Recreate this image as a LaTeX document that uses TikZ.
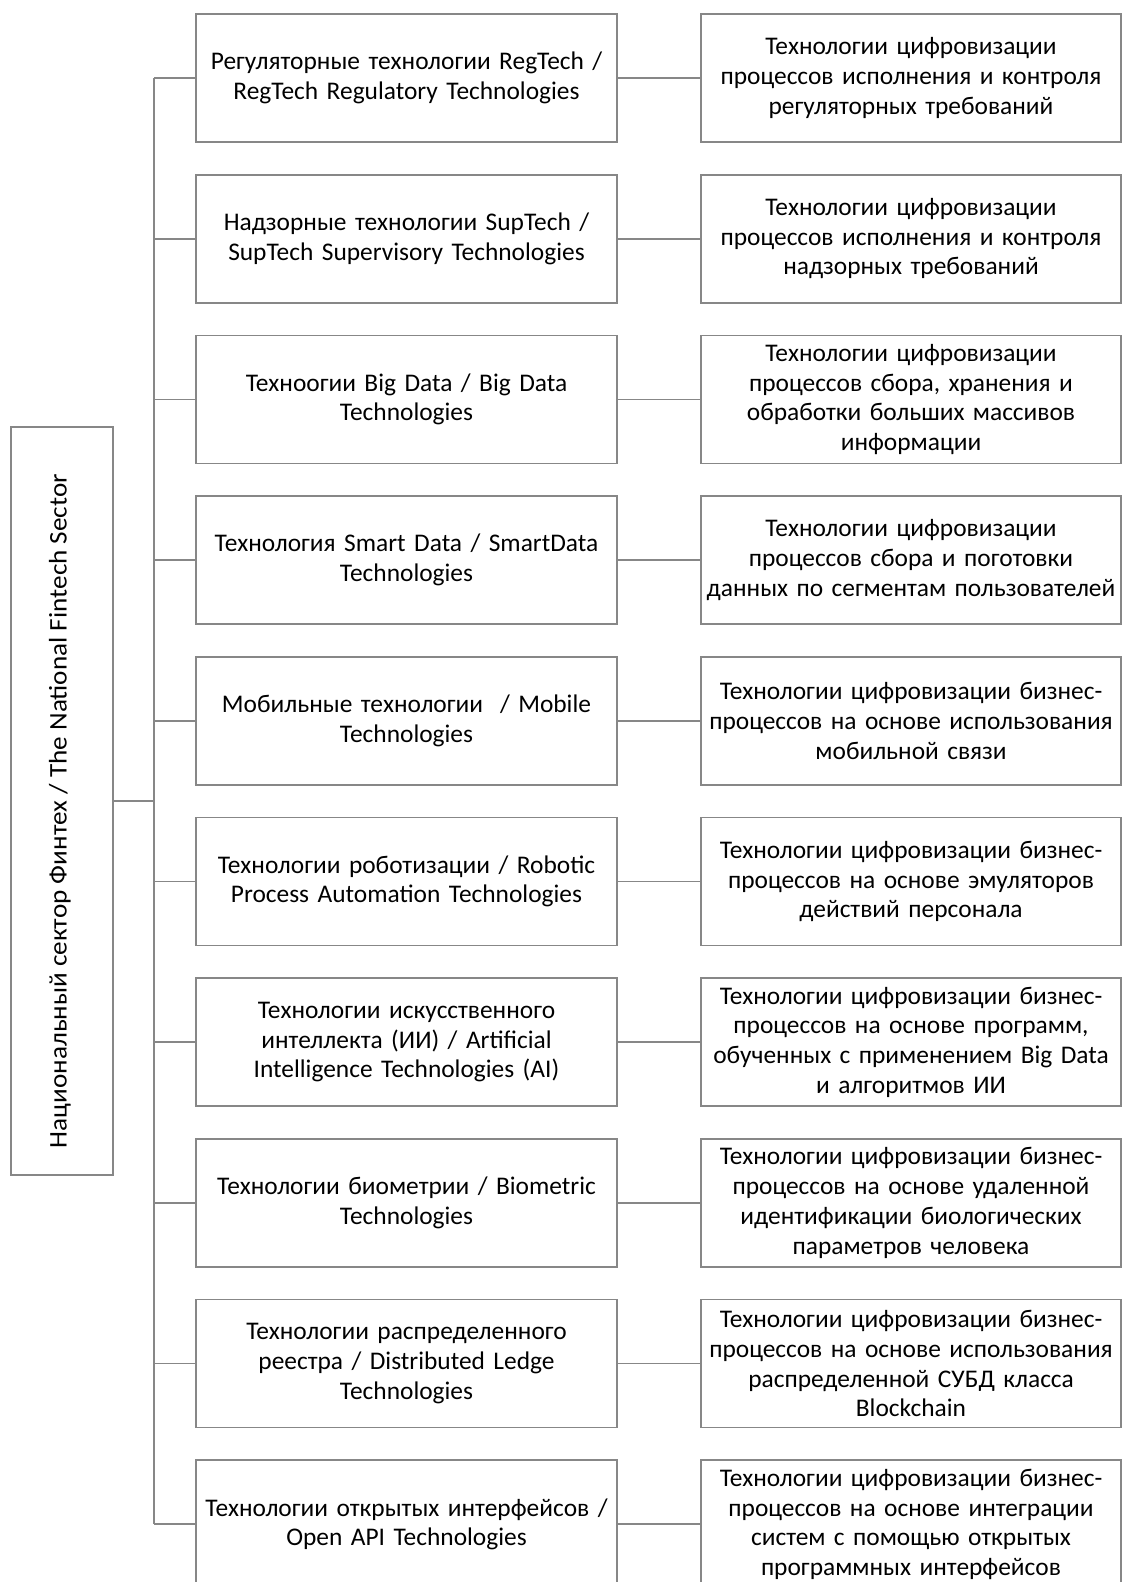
\documentclass[tikz,border=0pt]{standalone}
\usepackage{fontspec}
\setmainfont{Carlito}
\begin{document}
\begin{tikzpicture}[x=1pt,y=-1pt,
  txt/.style={font=\fontsize{25.4}{29.7}\selectfont},
  box/.style={draw=linegray, line width=1.7pt, inner sep=0pt, minimum height=128pt, align=center, txt},
  lbox/.style={box, text width=421pt},
  rbox/.style={box, text width=420pt},
  conn/.style={draw=linegray, line width=1.7pt}]
\definecolor{linegray}{RGB}{135,135,135}
\useasboundingbox (0,0) rectangle (1123,1582);
\clip (0,0) rectangle (1123,1582);
\coordinate (sp) at (154,0);
\node[draw=linegray, line width=1.7pt, minimum width=102pt, minimum height=748pt, inner sep=0pt] (C) at (62,801) {};
\node[rotate=90, txt] (Ct) at (60,811) {\scalebox{1.07}[1]{Национальный сектор Финтех / The National Fintech Sector}};

\node[lbox] (L1) at (406.5,78) {Регуляторные технологии RegTech /\\RegTech Regulatory Technologies};
\node[lbox] (L2) at (406.5,238.7) {Надзорные технологии SupTech /\\SupTech Supervisory Technologies};
\node[lbox] (L3) at (406.5,399.4) {Техноогии Big Data / Big Data\\Technologies};
\node[lbox] (L4) at (406.5,560.1) {Технология Smart Data / SmartData\\Technologies};
\node[lbox] (L5) at (406.5,720.8) {Мобильные технологии~~/ Mobile\\Technologies};
\node[lbox] (L6) at (406.5,881.5) {Технологии роботизации / Robotic\\Process Automation Technologies};
\node[lbox] (L7) at (406.5,1042.2) {Технологии искусственного\\интеллекта (ИИ) / Artificial\\Intelligence Technologies (AI)};
\node[lbox] (L8) at (406.5,1202.9) {Технологии биометрии / Biometric\\Technologies};
\node[lbox] (L9) at (406.5,1363.6) {Технологии распределенного\\реестра / Distributed Ledge\\Technologies};
\node[lbox] (L10) at (406.5,1524.3) {Технологии открытых интерфейсов /\\Open API Technologies};

\node[rbox] (R1) at (911,78) {Технологии цифровизации\\процессов исполнения и контроля\\регуляторных требований};
\node[rbox] (R2) at (911,238.7) {Технологии цифровизации\\процессов исполнения и контроля\\надзорных требований};
\node[rbox] (R3) at (911,399.4) {Технологии цифровизации\\процессов сбора, хранения и\\обработки больших массивов\\информации};
\node[rbox] (R4) at (911,560.1) {Технологии цифровизации\\процессов сбора и поготовки\\данных по сегментам пользователей};
\node[rbox] (R5) at (911,720.8) {Технологии цифровизации бизнес-\\процессов на основе использования\\мобильной связи};
\node[rbox] (R6) at (911,881.5) {Технологии цифровизации бизнес-\\процессов на основе эмуляторов\\действий персонала};
\node[rbox] (R7) at (911,1042.2) {Технологии цифровизации бизнес-\\процессов на основе программ,\\обученных с применением Big Data\\и алгоритмов ИИ};
\node[rbox] (R8) at (911,1202.9) {Технологии цифровизации бизнес-\\процессов на основе удаленной\\идентификации биологических\\параметров человека};
\node[rbox] (R9) at (911,1363.6) {Технологии цифровизации бизнес-\\процессов на основе использования\\распределенной СУБД класса\\Blockchain};
\node[rbox] (R10) at (911,1524.3) {Технологии цифровизации бизнес-\\процессов на основе интеграции\\систем с помощью открытых\\программных интерфейсов};

\draw[conn] (C.east) -- (C.east -| sp);
\draw[conn] (L1.west -| sp) -- (L10.west -| sp);
\foreach \i in {1,...,10} {
  \draw[conn] (L\i.west -| sp) -- (L\i.west);
  \draw[conn] (L\i.east) -- (R\i.west);
}
\end{tikzpicture}
\end{document}
